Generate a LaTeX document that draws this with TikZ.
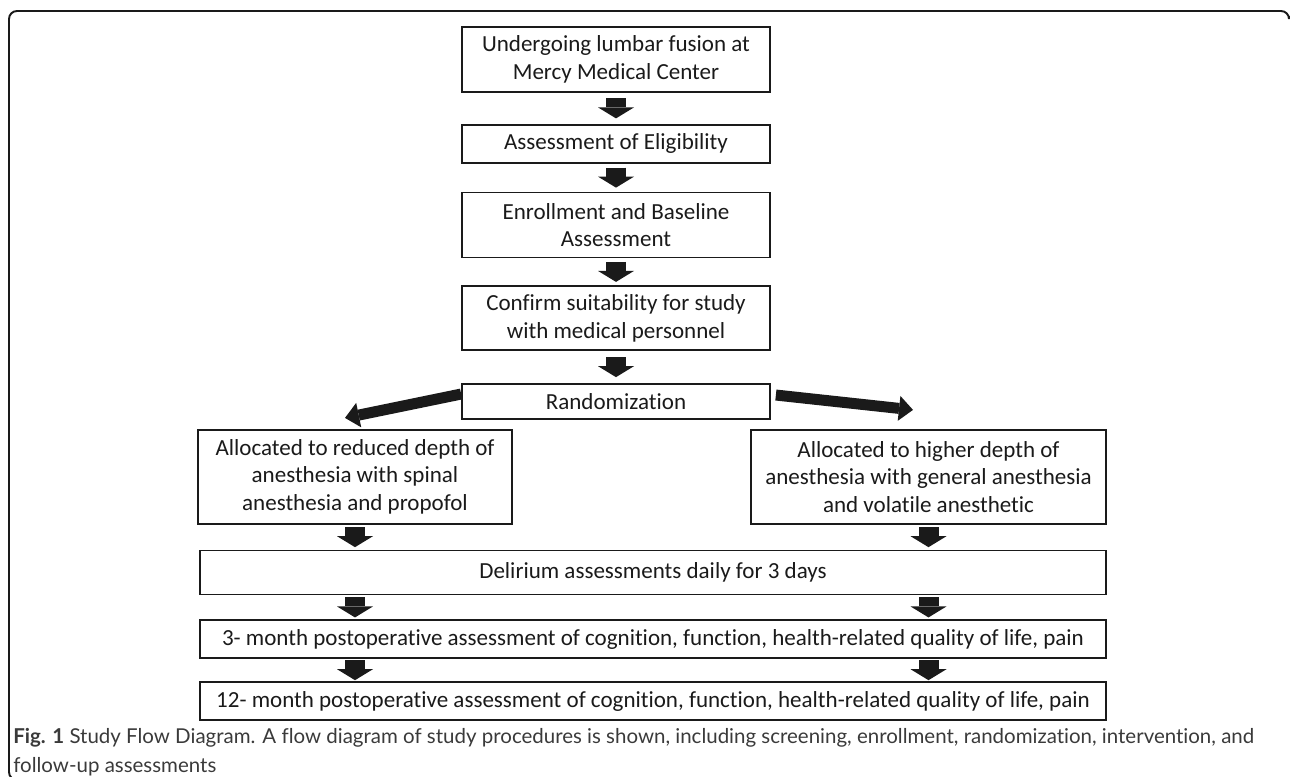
\documentclass[tikz,border=0pt]{standalone}
\usepackage{fontspec}
\setmainfont{Carlito}[Ligatures=NoCommon]
\newfontfamily\capfont{Lato}[Ligatures=NoCommon]
\usetikzlibrary{arrows.meta,positioning,calc}
\definecolor{FlowInk}{HTML}{1A1A1A}
\definecolor{CapInk}{HTML}{3A3A3A}

\begin{document}
\begin{tikzpicture}[
  stage/.style={draw=FlowInk,line width=1pt,minimum width=6.16cm,align=center,inner sep=2pt,
    font=\fontsize{13.1}{15.6}\selectfont,text=FlowInk},
  wide/.style={stage,minimum width=18.12cm,minimum height=0.76cm},
  blockdown/.style={line width=0.4cm,FlowInk,-{Triangle[width=0.72cm,length=0.22cm,line width=0pt]},
    shorten <=#1,shorten >=#1},
  blockside/.style={line width=0.22cm,FlowInk,-{Triangle[width=0.5cm,length=0.28cm,line width=0pt]}},
  frame/.style={draw=FlowInk,line width=1.1pt,rounded corners=0.16cm},
]
\useasboundingbox (0,0) rectangle (25.8,-15.52);
\begin{scope}
\clip (0,0) rectangle (25.8,-15.52);
\draw[frame] (25.78,-0.32) -- (25.78,-0.22) -- (0.18,-0.22) -- (0.18,-15.6) -- (0.6,-15.6);
\end{scope}

% screening chain
\node[stage,minimum height=1.3cm] (lumbar) at (12.32,-1.19) {Undergoing lumbar fusion at\\Mercy Medical Center};
\node[stage,minimum height=0.76cm,below=0.62cm of lumbar] (elig) {Assessment of Eligibility};
\node[stage,minimum height=1.3cm,below=0.56cm of elig] (enroll) {Enrollment and Baseline\\Assessment};
\node[stage,minimum height=1.28cm,below=0.54cm of enroll] (confirm) {Confirm suitability for study\\with medical personnel};
\node[stage,minimum height=0.7cm,below=0.64cm of confirm] (rand) {Randomization};

% two arms
\node[stage,minimum width=6.28cm,minimum height=1.88cm,below=0.18cm of rand,xshift=-5.22cm] (reduced)
  {Allocated to reduced depth of\\anesthesia with spinal\\anesthesia and propofol};
\node[stage,minimum width=7.1cm,minimum height=1.88cm,below=0.18cm of rand,xshift=6.25cm] (higher)
  {Allocated to higher depth of\\anesthesia with general anesthesia\\and volatile anesthetic};

% follow-up
\node[wide,minimum height=0.88cm,below=0.5cm of reduced,xshift=5.96cm] (delir) {Delirium assessments daily for 3 days};
\node[wide,below=0.48cm of delir] (three) {3- month postoperative assessment of cognition, function, health-related quality of life, pain};
\node[wide,below=0.44cm of three] (twelve) {12- month postoperative assessment of cognition, function, health-related quality of life, pain};

\draw[blockdown=0.11cm] (lumbar.south) -- (elig.north);
\draw[blockdown=0.08cm] (elig.south) -- (enroll.north);
\draw[blockdown=0.07cm] (enroll.south) -- (confirm.north);
\draw[blockdown=0.12cm] (confirm.south) -- (rand.north);
\draw[blockside] ([yshift=0.15cm]rand.west) -- ([xshift=-0.2cm,yshift=0.22cm]reduced.north);
\draw[blockside] ([xshift=0.1cm,yshift=0.13cm]rand.east) -- ([xshift=-0.31cm,yshift=0.38cm]higher.north);
\draw[blockdown=0.05cm] (reduced.south) -- (reduced.south |- delir.north);
\draw[blockdown=0.05cm] (higher.south) -- (higher.south |- delir.north);
\foreach \arm in {reduced,higher}{
  \draw[blockdown=0.04cm] (delir.south -| \arm) -- (three.north -| \arm);
  \draw[blockdown=0.02cm] (three.south -| \arm) -- (twelve.north -| \arm);
}

\node[anchor=north west,align=left,inner sep=0pt,text=CapInk,
  font=\capfont\fontsize{11.65}{16.8}\selectfont] (caption) at (0.26,-14.55)
  {\textbf{Fig. 1} Study Flow Diagram. A flow diagram of study procedures is shown, including screening, enrollment, randomization, intervention, and\\follow-up assessments};
\end{tikzpicture}
\end{document}
